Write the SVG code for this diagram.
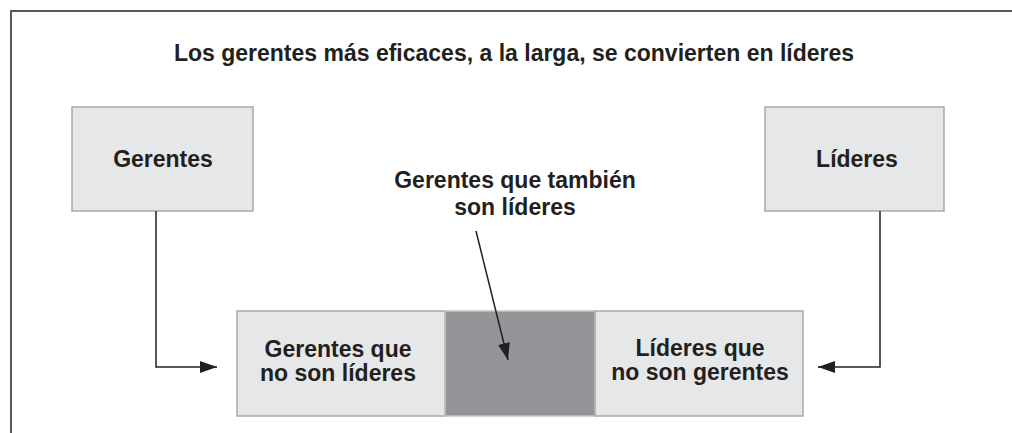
<svg xmlns="http://www.w3.org/2000/svg" width="1012" height="433" viewBox="0 0 1012 433">
  <style>
    text { font-family: "Liberation Sans", Arial, sans-serif; font-weight: bold; fill: #231f20; font-size: 23px; text-anchor: middle; }
    .box { fill: #e6e7e8; stroke: #a7a9ac; stroke-width: 1.5; }
    .dark { fill: #939598; stroke: #c4c5c7; stroke-width: 1.5; }
    .conn { fill: none; stroke: #231f20; stroke-width: 1.5; }
    .frame { fill: none; stroke: #58595b; stroke-width: 2; }
  </style>
  <defs>
    <marker id="arr" markerUnits="userSpaceOnUse" markerWidth="18" markerHeight="12" refX="17" refY="6" orient="auto">
      <path d="M0,0 L17,6 L0,12 Z" fill="#231f20"/>
    </marker>
  </defs>
  <path class="frame" d="M11,433 L11,11 L1012,11"/>
  <text x="514" y="61">Los gerentes más eficaces, a la larga, se convierten en líderes</text>

  <g id="gerentes">
    <rect class="box" x="72" y="107" width="181" height="104"/>
    <text x="163" y="167">Gerentes</text>
  </g>
  <g id="lideres">
    <rect class="box" x="765" y="107" width="179" height="104"/>
    <text x="857" y="167">Líderes</text>
  </g>
  <g id="gerentes-no-lideres">
    <rect class="box" x="237" y="311" width="208" height="105"/>
    <text x="338" y="357">Gerentes que</text>
    <text x="338" y="381">no son líderes</text>
  </g>
  <g id="ambos">
    <rect class="dark" x="445" y="311" width="150" height="105"/>
  </g>
  <g id="lideres-no-gerentes">
    <rect class="box" x="595" y="311" width="208" height="105"/>
    <text x="700" y="356">Líderes que</text>
    <text x="700" y="380">no son gerentes</text>
  </g>
  <g id="label-ambos">
    <text x="515" y="188">Gerentes que también</text>
    <text x="515" y="215">son líderes</text>
  </g>

  <g id="connectors">
    <path class="conn" d="M156,211 L156,367 L217,367" marker-end="url(#arr)"/>
    <path class="conn" d="M880,211 L880,367 L818,367" marker-end="url(#arr)"/>
    <path class="conn" d="M476,231 L508,360" stroke-width="2.5" marker-end="url(#arr)"/>
  </g>
</svg>
